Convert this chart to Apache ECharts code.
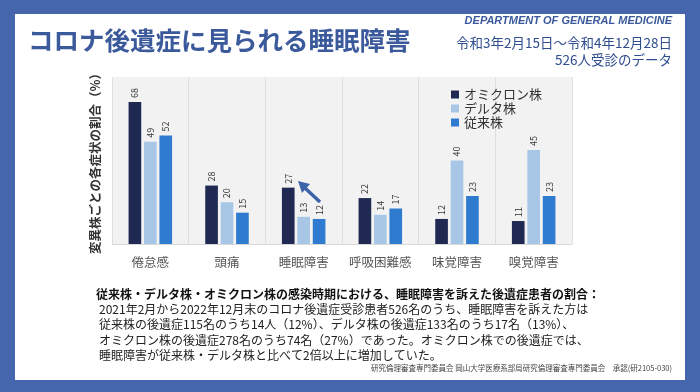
<!DOCTYPE html>
<html><head><meta charset="utf-8">
<script src="https://cdn.jsdelivr.net/npm/echarts@6/dist/echarts.min.js"></script>
<style>html,body{margin:0;padding:0;background:#4565ad;}#c{width:700px;height:392px;}</style>
</head><body><div id="c"></div>
<script>
const categories = ['倦怠感', '頭痛', '睡眠障害', '呼吸困難感', '味覚障害', '嗅覚障害'];
const seriesNames = ['オミクロン株', 'デルタ株', '従来株'];
const omicron = [68, 28, 27, 22, 12, 11];
const delta = [49, 20, 13, 14, 40, 45];
const conventional = [52, 15, 12, 17, 23, 23];
const colors = ['#1f2952', '#a8c7e7', '#2e7bcf'];
const yMax = 80;
const bodyLines = [
  '2021年2月から2022年12月末のコロナ後遺症受診患者526名のうち、睡眠障害を訴えた方は',
  '従来株の後遺症115名のうち14人（12%）、デルタ株の後遺症133名のうち17名（13%）、',
  'オミクロン株の後遺症278名のうち74名（27%）であった。オミクロン株での後遺症では、',
  '睡眠障害が従来株・デルタ株と比べて2倍以上に増加していた。'
];
const FONT = '"Noto Sans CJK JP", "Noto Sans", sans-serif';

const chart = echarts.init(document.getElementById('c'), null, {renderer: 'canvas'});
const lbl = {show: true, position: 'top', rotate: 90, align: 'left', verticalAlign: 'middle', distance: 4, fontSize: 9, color: '#333', fontFamily: FONT};
const mk = (name, data, i) => ({
  name, type: 'bar', data, barWidth: '16.5%', barGap: '22%',
  itemStyle: {color: colors[i]}, label: lbl
});
const graphics = [
  {type: 'rect', shape: {x: 15, y: 14, width: 670, height: 366}, style: {fill: '#ffffff'}, z: -10},
  {type: 'text', left: 28, top: 28, style: {text: 'コロナ後遺症に見られる睡眠障害', font: 'bold 25.5px ' + FONT, fill: '#3b5a9c'}},
  {type: 'text', right: 28, top: 15, style: {text: 'DEPARTMENT OF GENERAL MEDICINE', font: 'italic bold 11px "Liberation Sans", Arial, sans-serif', fill: '#3b5a9c', align: 'right'}},
  {type: 'text', right: 28, top: 36, style: {text: '令和3年2月15日～令和4年12月28日', font: '13.5px ' + FONT, fill: '#2f4d8f', align: 'right'}},
  {type: 'text', right: 28, top: 53, style: {text: '526人受診のデータ', font: '13.5px ' + FONT, fill: '#2f4d8f', align: 'right'}},
  {type: 'text', left: 96, top: 288, style: {text: '従来株・デルタ株・オミクロン株の感染時期における、睡眠障害を訴えた後遺症患者の割合：', font: 'bold 12px ' + FONT, fill: '#111'}},
  {type: 'text', right: 28, top: 364, style: {text: '研究倫理審査専門委員会 岡山大学医療系部局研究倫理審査専門委員会　承認(研2105-030)', font: '7.5px ' + FONT, fill: '#444', align: 'right'}},
  // annotation arrow
  {type: 'line', shape: {x1: 320, y1: 202, x2: 305, y2: 188}, style: {stroke: '#3d63a8', lineWidth: 3.5}, z: 10},
  {type: 'polygon', shape: {points: [[298, 181], [310, 184], [302, 193]]}, style: {fill: '#3d63a8'}, z: 10}
];
bodyLines.forEach((t, i) => graphics.push({type: 'text', left: 99, top: 303.5 + i * 15.3, style: {text: t, font: '12px ' + FONT, fill: '#222'}}));

chart.setOption({
  animation: false,
  textStyle: {fontFamily: FONT},
  grid: {left: 112, right: 128, top: 77, bottom: 148, show: true, backgroundColor: '#f2f2f2', borderWidth: 0},
  legend: {
    orient: 'vertical', left: 446, top: 83, icon: 'rect', itemWidth: 8, itemHeight: 8, itemGap: 1,
    textStyle: {fontSize: 13, color: '#333', lineHeight: 13, fontFamily: FONT},
    data: seriesNames
  },
  xAxis: {
    type: 'category', data: categories,
    axisLine: {lineStyle: {color: '#d9d9d9'}}, axisTick: {show: false, interval: 0},
    axisLabel: {interval: 0, fontSize: 12.5, color: '#555', margin: 12, fontFamily: FONT},
    splitLine: {show: true, interval: 0, lineStyle: {color: '#dedede'}}
  },
  yAxis: {
    type: 'value', min: 0, max: yMax,
    name: '変異株ごとの各症状の割合（%）', nameLocation: 'middle', nameRotate: 90, nameGap: 10,
    nameTextStyle: {fontSize: 12.5, fontWeight: 'bold', color: '#333', fontFamily: FONT},
    axisLabel: {show: false}, axisLine: {show: false}, axisTick: {show: false}, splitLine: {show: false}
  },
  series: [mk(seriesNames[0], omicron, 0), mk(seriesNames[1], delta, 1), mk(seriesNames[2], conventional, 2)],
  graphic: graphics
});
</script></body></html>
